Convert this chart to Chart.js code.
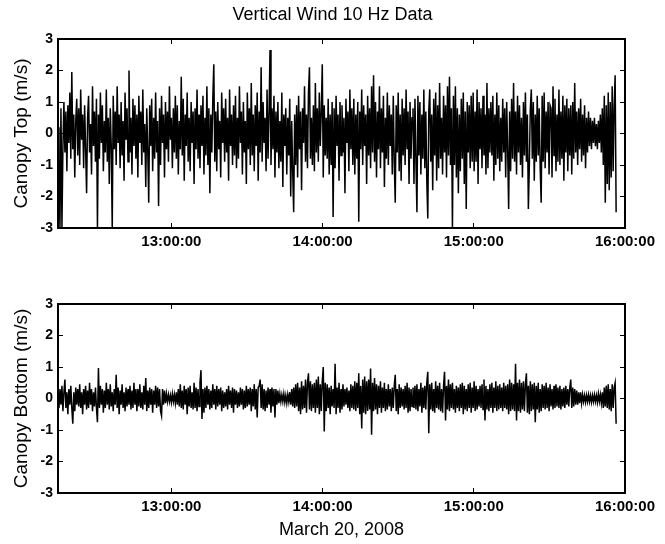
<!DOCTYPE html>
<html>
<head>
<meta charset="utf-8">
<script src="https://cdn.jsdelivr.net/npm/chart.js@4.4.0/dist/chart.umd.min.js"></script>
<style>
  html, body { margin: 0; padding: 0; background: #fff; }
  #wrap { position: relative; width: 665px; height: 544px; }
  canvas { position: absolute; left: 0; }
  #topChart { top: 0; }
  #bottomChart { top: 262px; }
</style>
</head>
<body>
<div id="wrap">
  <canvas id="topChart" width="665" height="262"></canvas>
  <canvas id="bottomChart" width="665" height="282"></canvas>
</div>
<script>
// Sample times (hours of day) and axis ticks
const startHour = 12.25;    // 12:15:00
const endHour = 16;
const stepHours = 0.006522; // spacing of the plotted samples
const hourTicks = [13, 14, 15, 16];
const hourLabels = ['13:00:00', '14:00:00', '15:00:00', '16:00:00'];
const windTicks = [-3, -2, -1, 0, 1, 2, 3];

// Vertical wind (m/s)
const canopyTop = [
  0.2, -1.5, -3.0, 0.8, -3.0, -0.4, 1.0, -0.6, 0.7, -1.2, 0.9, -0.3, 1.3, -0.8, 1.95, -0.5, 0.6, -1.4, 0.4, 1.1,
  -0.7, 0.8, -1.0, 1.4, -0.2, 0.6, -1.1, 0.9, -0.5, -1.9, 0.5, 1.2, -0.6, 0.3, -1.3, 1.5, -0.4, 0.7, -0.9, 1.1,
  -3.0, 0.6, -0.8, 1.3, -0.3, 0.9, -1.2, 0.4, -0.6, 1.4, -0.9, 0.5, -1.6, 0.8, -0.4, -3.0, 1.2, -0.5, 0.7, -1.0,
  1.5, -0.3, 0.6, -1.1, 1.0, -0.7, 0.4, -1.5, 1.3, -0.2, 0.8, -0.9, 2.0, -0.6, 0.5, -1.3, 1.1, -0.4, 0.9, -0.8,
  0.6, -1.4, 1.2, -0.3, 0.7, -1.0, 1.4, -0.6, 0.3, -1.7, 0.8, -0.5, -2.2, 0.9, -0.4, 1.1, -1.2, 0.5, -0.8, 1.3,
  -0.6, 0.4, -2.3, 0.8, -1.0, 1.2, -0.3, 0.6, -1.4, 1.0, -0.5, 0.7, -0.9, 1.5, -0.2, 0.5, -1.1, 0.8, -0.6, 1.2,
  -0.8, 0.9, -1.3, 0.4, -0.5, 1.8, -0.7, 1.1, -1.5, 0.6, -0.4, 1.3, -0.9, 0.5, -1.2, 1.0, -0.3, 0.7, -1.6, 0.8,
  -0.5, 1.4, -0.8, 0.6, -1.1, 0.9, -0.4, 1.2, -1.3, 0.5, -0.7, 1.5, -1.0, 0.8, -1.9, 0.6, -0.6, 1.1, 2.2, -0.9,
  0.7, -1.2, 1.0, -0.5, 0.4, -1.4, 1.3, -0.3, 0.8, -0.9, 1.1, -0.6, 0.5, -1.5, 1.4, -0.4, 0.6, -1.0, 0.9, -0.7,
  1.2, -1.1, 0.5, -0.8, 1.5, -0.3, 0.7, -1.3, 1.0, -0.6, 0.4, -1.6, 1.3, -0.5, 0.8, -1.0, 1.6, -0.7, 0.6, -1.2,
  0.9, -0.4, 1.3, -1.5, 0.7, -0.6, 2.1, -0.9, 1.0, -0.3, 0.5, -1.2, 1.4, -0.8, 0.6, 2.65, -1.0, 0.8, -0.5, 1.2,
  -1.4, 0.7, -0.6, 1.0, -1.1, 0.4, -0.9, 1.3, -1.7, 0.6, -0.4, 0.8, -1.3, 0.5, -0.7, 1.1, -2.0, 0.4, -1.2, -2.5,
  0.6, -1.0, 0.9, -1.4, 1.2, -0.5, 0.7, -1.8, 0.8, -0.3, 1.5, -0.9, 0.6, -1.1, 1.3, 2.1, -0.8, 0.5, -1.0, 0.9,
  -1.2, 1.6, -0.6, 0.8, -0.9, 1.3, -0.4, 0.7, 2.2, -1.4, 0.9, -0.7, 0.5, -0.8, 1.1, -1.3, 0.6, -1.0, 1.0, -2.65,
  0.8, -1.1, 1.2, -0.4, 0.6, -1.5, 1.0, -0.7, 0.9, -0.6, 0.5, -1.9, 1.1, -0.3, 0.7, -1.2, 1.4, -0.5, 0.8, -1.0,
  1.1, -1.3, 0.6, -0.8, 1.0, -2.8, 0.7, -0.5, 1.4, -1.0, 0.9, -0.4, 0.6, -1.6, 1.2, -0.7, 0.8, -1.1, 1.5, -0.6,
  1.85, -0.9, 1.0, -1.4, 0.7, -0.5, 1.5, -1.1, 0.8, -0.6, 1.2, -1.7, 0.5, -0.8, 1.3, -1.0, 0.9, -0.4, 0.6, -1.3,
  1.2, -0.9, -2.2, 0.9, -0.6, 1.3, -1.2, 0.6, -1.5, 1.1, -0.7, 0.8, -1.0, 1.4, -0.5, 0.7, -1.6, 1.0, -0.8, 0.5,
  0.8, -1.6, 1.1, -0.9, -2.5, 1.2, -0.7, 1.0, -1.3, 0.6, -0.8, 1.4, -1.1, 0.7, -1.5, -2.7, 0.7, 1.4, -0.9, 0.6,
  -1.8, 1.1, -0.7, 1.3, -1.5, 0.9, -1.1, 1.6, -0.8, 0.5, -1.3, 1.2, -0.6, 0.9, -1.4, 1.5, -0.7, 1.8, -1.0, 0.8,
  -3.0, 1.2, -1.0, 1.5, -1.4, 0.8, -1.9, 0.6, -1.2, 1.1, -0.8, 1.3, -1.6, 0.7, -2.4, 1.0, -0.6, 0.9, -1.1, 1.2,
  -0.9, 1.3, -1.2, 0.7, -0.9, 1.4, -1.6, 1.0, -0.5, 0.8, -1.1, 1.2, -0.7, 0.6, -1.3, 1.6, -1.1, 0.8, -0.6, 1.0,
  -0.7, 1.2, -1.5, 0.6, -1.0, 1.3, -0.8, 0.9, -1.2, 0.5, -0.9, 1.1, -0.6, 0.8, -1.4, 1.0, -0.5, -2.4, 0.7, -1.2,
  1.1, -0.8, 1.6, -0.9, 0.7, -1.3, 1.2, -0.6, 0.9, -1.0, 0.5, -1.4, 1.0, -0.7, 1.3, -0.9, 0.6, -2.4, -1.0, 0.8,
  1.4, -0.8, 1.0, -1.5, 0.6, -0.9, 1.2, -0.7, 0.8, -1.1, -2.2, 1.2, -0.9, 1.3, -1.1, 0.7, -0.6, 1.0, -1.3, 0.9,
  0.8, -1.4, 1.5, -0.7, 1.1, -1.2, 0.6, -0.9, 1.4, -1.0, 0.7, -0.8, 1.2, -1.5, 0.9, -0.6, 1.1, -1.2, 0.8, -0.7,
  0.9, -1.3, 1.0, -0.8, 1.6, -0.6, 0.7, -1.0, 0.8, -0.5, 1.1, -0.9, 0.6, -0.7, 0.9, -1.1, 0.5, -0.6, 0.7, -0.4,
  0.5, -0.5, 0.4, -0.3, 0.5, -0.4, 0.3, -0.5, 0.4, -0.3, 0.6, -0.6, 0.8, -1.0, 1.2, -2.2, 0.9, -1.6, 1.3, -1.8,
  1.0, -1.4, 1.5, -1.2, 0.9, 1.85, -2.5
];

const canopyBottom = [
  0.1, -0.3, 0.3, -0.2, 0.4, -0.4, 0.2, 0.6, -0.3, 0.2, -0.5, 0.3, -0.2, 0.4, -0.3, -0.8, 0.2, -0.4, 0.35, -0.2,
  0.3, -0.25, 0.45, -0.3, 0.2, -0.5, 0.3, -0.2, 0.4, -0.35, 0.25, -0.3, 0.5, -0.2, 0.3, -0.4, 0.2, -0.25, 0.35, -0.3,
  -0.75, 0.97, -0.3, 0.4, -0.2, 0.3, -0.45, 0.25, -0.3, 0.5, -0.2, 0.3, -0.35, 0.45, -0.25, 0.2, -0.4, 0.3, -0.2, 0.75,
  -0.3, 0.35, -0.5, 0.25, -0.2, 0.45, -0.3, 0.2, -0.4, 0.35, -0.25, 0.3, -0.2, 0.4, -0.35, 0.25, -0.3, 0.5, -0.2, 0.3,
  -0.4, 0.3, -0.25, 0.45, -0.3, 0.2, -0.35, 0.4, -0.2, 0.65, -0.4, 0.25, -0.3, 0.35, -0.2, 0.3, -0.45, 0.25, -0.2, 0.4,
  -0.3, 0.35, -0.25, 0.3, -0.4, -0.55, 0.3, -0.2, 0.25, -0.15, 0.15, -0.1, 0.12, -0.1, 0.1, -0.12, 0.15, -0.1, 0.12, -0.15,
  0.2, -0.2, 0.3, -0.25, 0.45, -0.3, 0.25, -0.35, 0.4, -0.2, 0.3, -0.5, 0.35, -0.25, 0.4, -0.3, 0.2, -0.35, 0.5, -0.3,
  0.35, -0.4, 0.3, -0.25, 0.5, 0.9, -0.65, 0.3, -0.45, 0.35, -0.3, 0.4, -0.2, 0.3, -0.35, 0.25, -0.3, 0.45, -0.2, 0.3,
  -0.35, 0.4, -0.25, 0.3, -0.2, 0.35, -0.4, 0.25, -0.3, 0.2, -0.25, 0.3, -0.35, 0.4, -0.2, 0.25, -0.3, 0.35, -0.45, 0.3,
  -0.2, 0.25, -0.3, 0.2, -0.25, 0.35, -0.2, 0.3, -0.35, 0.25, -0.3, 0.4, -0.25, 0.3, -0.2, 0.35, -0.4, 0.3, -0.25, 0.45,
  -0.35, 0.3, -0.6, 0.35, 0.4, 0.6, -0.3, 0.45, -0.35, 0.3, -0.4, 0.25, -0.3, 0.35, -0.2, 0.3, -0.45, 0.35, -0.25, 0.3,
  -0.6, 0.3, -0.2, 0.25, -0.15, 0.15, -0.1, 0.12, -0.1, 0.15, -0.12, 0.1, -0.15, 0.12, -0.1, 0.2, -0.2, 0.3, -0.25, 0.35,
  -0.3, 0.45, -0.25, 0.5, -0.4, 0.35, -0.5, 0.55, -0.35, 0.4, -0.3, 0.6, -0.45, 0.5, 0.8, -0.35, 0.55, -0.4, 0.45, -0.3,
  0.5, -0.45, 0.6, -0.3, 0.7, -0.5, 0.45, -0.4, 0.55, 1.0, -1.05, 0.5, -0.4, 0.45, -0.3, 0.35, -0.5, 0.4, -0.25, 0.3,
  -0.3, 1.1, -0.5, 0.35, -0.3, 0.5, -0.45, 0.3, -0.35, 0.45, -0.25, 0.3, -0.2, 0.35, -0.3, 0.25, -0.4, 0.45, -0.3, 0.4,
  -0.35, 0.55, -0.4, 0.5, -0.3, 0.8, -0.5, 0.4, -0.95, 0.6, -0.45, 0.7, -0.5, 0.55, -0.4, 0.6, -0.35, 0.95, -1.15, 0.5,
  -0.4, 0.65, -0.35, 0.45, -0.5, 0.4, -0.3, 0.55, -0.45, 0.35, -0.3, 0.5, -0.4, 0.3, -0.35, 0.45, -0.25, 0.3, -0.4, 0.35,
  -0.3, 0.4, 0.75, -0.4, 0.3, -0.5, 0.45, -0.3, 0.35, -0.25, 0.3, -0.35, 0.4, -0.3, 0.5, -0.45, 0.35, -0.4, 0.3, -0.25,
  0.35, -0.3, 0.4, -0.35, 0.45, -0.4, 0.3, -0.25, 0.5, -0.45, 0.35, -0.3, 0.4, -0.35, 0.5, 0.85, -1.1, 0.45, -0.35, 0.5,
  -0.4, 0.3, -0.45, 0.55, -0.3, 0.4, -0.35, 0.5, -0.4, 0.3, -0.45, 0.4, 0.85, -0.7, 0.4, -0.35, 0.6, -0.4, 0.45, -0.3,
  0.5, -0.35, 0.3, -0.45, 0.4, -0.3, 0.35, -0.4, 0.45, -0.3, 0.5, -0.5, 0.4, -0.35, 0.3, -0.4, 0.45, -0.3, 0.5, -0.45,
  0.35, -0.3, 0.55, -0.4, 0.4, -0.35, 0.3, -0.25, 0.4, -0.3, 0.45, -0.35, 0.6, -0.7, 0.4, -0.35, 0.3, -0.4, 0.45, -0.3,
  0.5, -0.45, 0.35, -0.3, 0.55, -0.4, 0.4, -0.35, 0.45, -0.3, 0.35, -0.4, 0.5, -0.3, 0.4, -0.35, 0.45, -0.5, 0.6, -0.4,
  0.5, -0.35, 0.45, -0.4, 1.1, -0.7, 0.5, -0.4, 0.6, -0.45, 0.5, -0.35, 0.55, -0.4, 0.45, 0.8, -0.45, 0.4, -0.5, 0.55,
  -0.4, 0.45, -0.35, 0.5, -0.75, 0.4, -0.35, 0.5, -0.45, 0.3, -0.4, 0.45, -0.3, 0.4, -0.35, 0.5, -0.3, 0.35, -0.4, 0.45,
  -0.25, 0.3, -0.35, 0.4, -0.3, 0.45, -0.25, 0.35, -0.3, 0.4, -0.35, 0.3, -0.25, 0.35, -0.3, 0.4, -0.2, 0.3, -0.25, 0.35,
  0.6, -0.3, 0.35, -0.25, 0.3, -0.2, 0.25, -0.2, 0.2, -0.15, 0.2, -0.15, 0.12, -0.1, 0.1, -0.12, 0.1, -0.1, 0.12, -0.1,
  0.1, -0.12, 0.1, -0.1, 0.12, -0.1, 0.1, -0.12, 0.15, -0.1, 0.12, -0.15, 0.2, -0.3, 0.35, -0.25, 0.4, -0.3, 0.45, -0.35,
  0.3, -0.4, 0.45, -0.3, 0.35, 0.5, -0.8
];

function toPoints(values) {
  return values.map((v, i) => ({ x: startHour + i * stepHours, y: v }));
}

const tickFont = { family: '"Liberation Sans", Arial, sans-serif', size: 15, weight: 'bold' };
const titleFont = { family: '"Liberation Sans", Arial, sans-serif', size: 18, weight: 'normal' };
const axisTitleFont = { ...titleFont, size: 19 };
const ink = '#000';

// inward tick marks, black frame on all four sides
const gridOpts = { drawOnChartArea: false, tickLength: -5, color: ink, lineWidth: 1 };
const borderOpts = { color: ink, width: 2 };

function makeScales(yTitle, xTitle, topHeight, bottomHeight) {
  const hourTickList = s => { s.ticks = hourTicks.map(v => ({ value: v })); };
  const windTickList = s => { s.ticks = windTicks.map(v => ({ value: v })); };
  return {
    x: {
      type: 'linear', position: 'bottom', min: startHour, max: endHour,
      afterBuildTicks: hourTickList,
      afterFit: s => { s.height = bottomHeight; },
      ticks: { font: tickFont, color: ink, padding: 10, maxRotation: 0, autoSkip: false,
               callback: (v, i) => hourLabels[i] },
      grid: gridOpts, border: borderOpts,
      title: xTitle
        ? { display: true, text: xTitle, font: titleFont, color: ink, padding: { bottom: 3 } }
        : { display: false }
    },
    xTop: {
      type: 'linear', position: 'top', min: startHour, max: endHour,
      afterBuildTicks: hourTickList,
      afterFit: s => { s.height = topHeight; },
      ticks: { display: false },
      grid: gridOpts, border: borderOpts
    },
    y: {
      type: 'linear', position: 'left', min: -3, max: 3,
      afterBuildTicks: windTickList,
      afterFit: s => { s.width = 58; },
      ticks: { font: { ...tickFont, size: 14 }, color: ink, padding: 10 },
      grid: gridOpts, border: borderOpts,
      title: { display: true, text: yTitle, font: axisTitleFont, color: ink, padding: { top: 10 } }
    },
    yRight: {
      type: 'linear', position: 'right', min: -3, max: 3,
      afterBuildTicks: windTickList,
      afterFit: s => { s.width = 32; },
      ticks: { display: false },
      grid: gridOpts, border: borderOpts
    }
  };
}

function makeChart(id, values, opts) {
  const ctx = document.getElementById(id).getContext('2d');
  return new Chart(ctx, {
    type: 'line',
    data: {
      datasets: [{
        data: toPoints(values),
        xAxisID: 'x', yAxisID: 'y',
        borderColor: ink, borderWidth: 1.5, pointRadius: 0, tension: 0, fill: false
      }]
    },
    options: {
      responsive: false,
      animation: false,
      events: [],
      layout: { padding: 0 },
      plugins: {
        legend: { display: false },
        tooltip: { enabled: false },
        title: opts.title
          ? { display: true, text: opts.title, font: titleFont, color: ink, padding: { top: 4, bottom: 0 } }
          : { display: false }
      },
      scales: makeScales(opts.yTitle, opts.xTitle, opts.topHeight, opts.bottomHeight)
    }
  });
}

makeChart('topChart', canopyTop, {
  title: 'Vertical Wind 10 Hz Data', yTitle: 'Canopy Top (m/s)',
  topHeight: 13.4, bottomHeight: 34
});
makeChart('bottomChart', canopyBottom, {
  xTitle: 'March 20, 2008', yTitle: 'Canopy Bottom (m/s)',
  topHeight: 42, bottomHeight: 51
});
</script>
</body>
</html>
